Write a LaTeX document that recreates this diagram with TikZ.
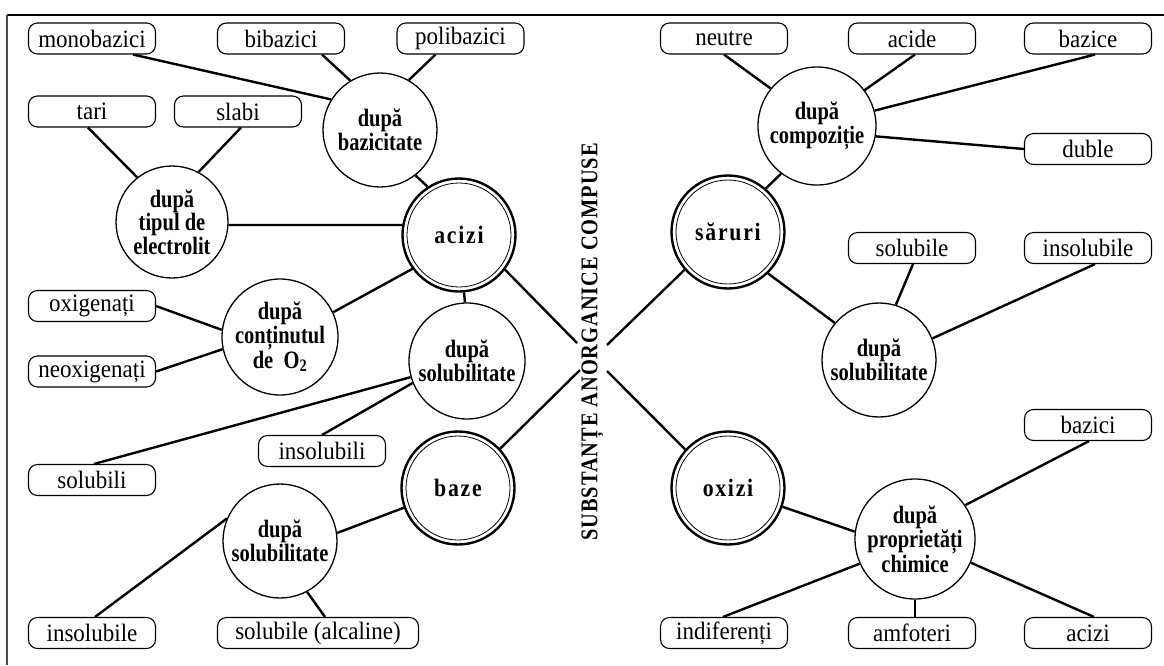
\documentclass[tikz,border=0pt]{standalone}
\usepackage{fontspec}
\setmainfont[FakeStretch=0.92,BoldFeatures={FakeStretch=0.82}]{Liberation Serif}
\newfontfamily\catfont[FakeStretch=0.87,LetterSpace=7,BoldFeatures={FakeStretch=0.87,LetterSpace=7}]{Liberation Serif}
\newfontfamily\titlefont[FakeStretch=0.85,LetterSpace=4,BoldFeatures={FakeStretch=0.85,LetterSpace=4}]{Liberation Serif}
\begin{document}
\begin{tikzpicture}[x=1pt,y=-1pt,
  lbl/.style={draw, line width=1.1pt, rounded corners=9pt, minimum width=127pt, minimum height=31pt, inner sep=0pt, font=\fontsize{25}{27}\selectfont},
  crit/.style={draw, circle, line width=1.3pt, inner sep=0pt, align=center, font=\fontsize{25}{21.7}\selectfont\bfseries},
  cat/.style={draw, circle, line width=2.4pt, inner sep=0pt, minimum size=113pt, font=\fontsize{25}{27}\selectfont\catfont\bfseries},
  conn/.style={line width=2.4pt},
  inner/.style={line width=0.8pt}
]
\useasboundingbox (0,0) rectangle (1164,665);
% frame
\draw[line width=1.4pt] (7,15) -- (1164,15);
\draw[line width=2pt, black!70] (7,15) -- (7,665);

% title
\node[rotate=90, font=\fontsize{24}{26}\selectfont\titlefont\bfseries] (title) at (592.5,342) {SUBSTANȚE ANORGANICE COMPUSE};
\coordinate (cA) at (577,343);
\coordinate (cB) at (580,370);
\coordinate (cS) at (607,345);
\coordinate (cO) at (607,371);

% category circles
\node[cat] (acizi) at (459,235) {acizi};
\node[cat] (baze) at (458,488) {baze};
\node[cat] (saruri) at (728,232) {săruri};
\node[cat] (oxizi) at (728,488) {oxizi};
\draw[inner] (acizi.center) circle[radius=52pt];
\draw[inner] (baze.center) circle[radius=52pt];
\draw[inner] (saruri.center) circle[radius=52pt];
\draw[inner] (oxizi.center) circle[radius=52pt];

% criterion circles
\node[crit, minimum size=114pt] (baz) at (380,130) {după\\bazicitate};
\node[crit, minimum size=112pt] (tip) at (172,222) {după\\tipul de\\electrolit};
\node[crit, minimum size=116pt] (cont) at (280,337) {după\\conținutul\\de\ \ O\textsubscript{2}};
\node[crit, minimum size=116pt] (solA) at (467,361) {după\\solubilitate};
\node[crit, minimum size=114pt] (solB) at (280,541) {după\\solubilitate};
\node[crit, minimum size=118pt] (compo) at (817,126) {după\\compoziție};
\node[crit, minimum size=114pt] (solS) at (879,360) {după\\solubilitate};
\node[crit, minimum size=120pt] (prop) at (915,539) {după\\proprietăți\\chimice};

% label boxes
\node[lbl] (mono) at (92,38.5) {monobazici};
\node[lbl] (bib) at (281,38.5) {bibazici};
\node[lbl] (poli) at (460.5,38.5) {polibazici};
\node[lbl] (tari) at (92,111.5) {tari};
\node[lbl] (slabi) at (238,111.5) {slabi};
\node[lbl] (oxi) at (92,306) {oxigenați};
\node[lbl] (neoxi) at (92,371.5) {neoxigenați};
\node[lbl] (solubili) at (92,480) {solubili};
\node[lbl] (insolubili) at (322,451) {insolubili};
\node[lbl] (insolubileB) at (92,633) {insolubile};
\node[lbl, minimum width=201pt] (alcaline) at (318,633) {solubile (alcaline)};
\node[lbl] (neutre) at (724,38.5) {neutre};
\node[lbl] (acide) at (912,38.5) {acide};
\node[lbl] (bazice) at (1088,38.5) {bazice};
\node[lbl] (duble) at (1088,149) {duble};
\node[lbl] (solubileS) at (912,248) {solubile};
\node[lbl] (insolubileS) at (1088,248) {insolubile};
\node[lbl] (bazici) at (1088,425) {bazici};
\node[lbl] (indif) at (724,633) {indiferenți};
\node[lbl] (amfo) at (912,633) {amfoteri};
\node[lbl] (aciziO) at (1088,633) {acizi};

% connectors - acizi
\draw[conn] ([xshift=41pt]mono.south) -- (baz.148);
\draw[conn] ([xshift=41pt]bib.south) -- (baz.121);
\draw[conn] ([xshift=-25pt]poli.south) -- (baz.60);
\draw[conn] ([xshift=-4pt]tari.south) -- (tip.128);
\draw[conn] ([xshift=3pt]slabi.south) -- (tip.62);
\draw[conn] (tip.-3) -- (acizi.170);
\draw[conn] (baz.-52) -- (acizi.123);
\draw[conn] (acizi.216) -- (cont.25);
\draw[conn] (acizi.-85) -- (solA.92);
\draw[conn] (acizi.-37.5) -- (cA);
\draw[conn] (oxi.east) -- (cont.173);
\draw[conn] (neoxi.east) -- (cont.192);
\draw[conn] ([xshift=2pt]solubili.north) -- (solA.196);
\draw[conn] (insolubili.north) -- (solA.202);
% baze
\draw[conn] (baze.43) -- (cB);
\draw[conn] (baze.200) -- (solB.8);
\draw[conn] ([xshift=3pt]insolubileB.north) -- (solB.157);
\draw[conn] ([xshift=7pt]alcaline.north) -- (solB.-62);
% saruri
\draw[conn] (neutre.south) -- (compo.141);
\draw[conn] ([xshift=3pt]acide.south) -- (compo.37);
\draw[conn] ([xshift=7pt]bazice.south) -- (compo.15);
\draw[conn] (duble.west) -- (compo.-10);
\draw[conn] (compo.233) -- (saruri.49);
\draw[conn] (saruri.221) -- (cS);
\draw[conn] (saruri.-46) -- (solS.140);
\draw[conn] ([xshift=1pt]solubileS.south) -- (solS.73);
\draw[conn] ([xshift=7pt]insolubileS.south) -- (solS.22);
% oxizi
\draw[conn] (cO) -- (oxizi.138);
\draw[conn] (oxizi.-19) -- (prop.173);
\draw[conn] ([xshift=1pt]bazici.south) -- (prop.34);
\draw[conn] ([xshift=-1pt]indif.north) -- (prop.204);
\draw[conn] ([xshift=3pt]amfo.north) -- ([xshift=3pt]amfo.north |- prop.south);
\draw[conn] ([xshift=6pt]aciziO.north) -- (prop.-23);
\end{tikzpicture}
\end{document}
